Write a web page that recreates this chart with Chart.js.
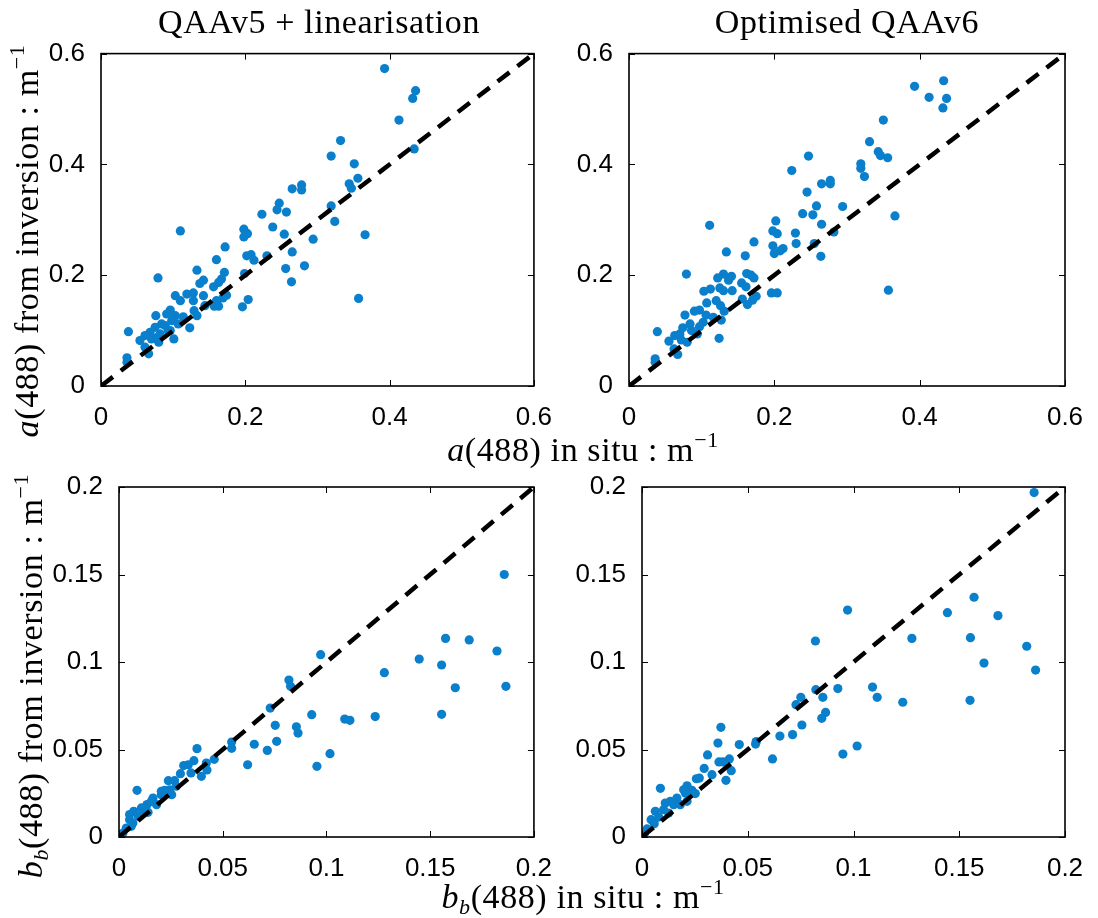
<!DOCTYPE html>
<html>
<head>
<meta charset="utf-8">
<script src="https://cdn.jsdelivr.net/npm/chart.js@4/dist/chart.umd.min.js"></script>
<style>
  body { margin: 0; background: #fff; width: 1098px; height: 918px; position: relative; overflow: hidden; }
  canvas { position: absolute; }
  .lbl { position: absolute; font-family: "Liberation Serif", serif; font-size: 34px; letter-spacing: 0.6px; color: #000; white-space: nowrap; transform: translate(-50%, -50%); }
  .rot { transform: translate(-50%, -50%) rotate(-90deg); }
  .lbl i { font-style: italic; }
  .lbl sup { font-size: 22px; vertical-align: 14px; line-height: 0; }
  .lbl sub { font-size: 22px; vertical-align: -6px; line-height: 0; font-style: italic; }
</style>
</head>
<body>
<canvas id="c1" width="560" height="400" style="left:0;top:30px"></canvas>
<canvas id="c2" width="558" height="400" style="left:540px;top:30px"></canvas>
<canvas id="c3" width="560" height="420" style="left:0;top:460px"></canvas>
<canvas id="c4" width="558" height="420" style="left:540px;top:460px"></canvas>

<div class="lbl" style="left:319px;top:22px">QAAv5 + linearisation</div>
<div class="lbl" style="left:847px;top:22px">Optimised QAAv6</div>
<div class="lbl" style="left:583px;top:450px"><i>a</i>(488) in situ : m<sup>&minus;1</sup></div>
<div class="lbl" style="left:583px;top:897px"><i>b</i><sub>b</sub>(488) in situ : m<sup>&minus;1</sup></div>
<div class="lbl rot" style="left:27px;top:241px"><i>a</i>(488) from inversion : m<sup>&minus;1</sup></div>
<div class="lbl rot" style="left:31px;top:676px"><i>b</i><sub>b</sub>(488) from inversion : m<sup>&minus;1</sup></div>

<script>
// tick values
const aTicks = [0, 0.2, 0.4, 0.6];
const bbTicks = [0, 0.05, 0.1, 0.15, 0.2];

// absorption, QAAv5 + linearisation
const aSituV5 = [0.393, 0.436, 0.432, 0.413, 0.434, 0.332, 0.319, 0.351, 0.356, 0.344, 0.347, 0.278, 0.278, 0.265,
  0.247, 0.244, 0.257, 0.223, 0.319, 0.324, 0.366, 0.238, 0.254, 0.294, 0.198, 0.203, 0.198, 0.110, 0.172, 0.265,
  0.230, 0.202, 0.208, 0.212, 0.160, 0.282, 0.256, 0.264, 0.133, 0.171, 0.199, 0.079, 0.142, 0.137, 0.167, 0.163,
  0.156, 0.357, 0.204, 0.196, 0.103, 0.128, 0.119, 0.142, 0.174, 0.169, 0.110, 0.128, 0.160, 0.144, 0.163, 0.157,
  0.129, 0.133, 0.096, 0.103, 0.091, 0.076, 0.114, 0.107, 0.123, 0.084, 0.075, 0.096, 0.038, 0.082, 0.068, 0.061,
  0.054, 0.070, 0.080, 0.101, 0.061, 0.066, 0.036, 0.036, 0.089, 0.078, 0.098, 0.093];
const aInvV5 = [0.573, 0.533, 0.519, 0.480, 0.428, 0.443, 0.415, 0.401, 0.375, 0.365, 0.357, 0.363, 0.354, 0.356,
  0.330, 0.318, 0.314, 0.310, 0.325, 0.297, 0.273, 0.287, 0.274, 0.265, 0.283, 0.275, 0.269, 0.280, 0.251, 0.242,
  0.235, 0.235, 0.237, 0.227, 0.228, 0.217, 0.212, 0.188, 0.209, 0.205, 0.203, 0.195, 0.191, 0.185, 0.193, 0.187,
  0.179, 0.158, 0.156, 0.143, 0.163, 0.168, 0.166, 0.163, 0.164, 0.159, 0.154, 0.154, 0.154, 0.145, 0.144, 0.144,
  0.136, 0.127, 0.137, 0.127, 0.130, 0.127, 0.125, 0.112, 0.105, 0.112, 0.106, 0.100, 0.098, 0.094, 0.097, 0.091,
  0.082, 0.085, 0.079, 0.085, 0.070, 0.058, 0.051, 0.043, 0.109, 0.088, 0.118, 0.100];

// absorption, optimised QAAv6
const aSituV6 = [0.433, 0.393, 0.413, 0.437, 0.432, 0.350, 0.331, 0.343, 0.346, 0.356, 0.247, 0.224, 0.319, 0.319,
  0.324, 0.265, 0.277, 0.277, 0.245, 0.258, 0.294, 0.239, 0.253, 0.366, 0.202, 0.265, 0.111, 0.198, 0.204, 0.229,
  0.282, 0.172, 0.230, 0.255, 0.198, 0.212, 0.208, 0.200, 0.134, 0.160, 0.264, 0.079, 0.130, 0.122, 0.141, 0.137,
  0.162, 0.168, 0.172, 0.155, 0.161, 0.112, 0.103, 0.125, 0.130, 0.142, 0.196, 0.204, 0.357, 0.175, 0.170, 0.163,
  0.156, 0.107, 0.120, 0.126, 0.131, 0.097, 0.090, 0.106, 0.077, 0.116, 0.127, 0.084, 0.097, 0.074, 0.039, 0.124,
  0.063, 0.055, 0.070, 0.080, 0.094, 0.072, 0.062, 0.067, 0.036, 0.036, 0.086, 0.102];
const aInvV6 = [0.551, 0.541, 0.521, 0.519, 0.502, 0.480, 0.441, 0.423, 0.416, 0.412, 0.415, 0.389, 0.401, 0.393,
  0.378, 0.365, 0.371, 0.365, 0.350, 0.325, 0.324, 0.311, 0.309, 0.307, 0.298, 0.292, 0.290, 0.280, 0.275, 0.276,
  0.278, 0.260, 0.257, 0.257, 0.253, 0.248, 0.244, 0.239, 0.242, 0.235, 0.234, 0.202, 0.202, 0.195, 0.198, 0.191,
  0.203, 0.200, 0.195, 0.186, 0.179, 0.175, 0.171, 0.177, 0.172, 0.172, 0.168, 0.168, 0.173, 0.162, 0.155, 0.147,
  0.157, 0.150, 0.154, 0.145, 0.135, 0.137, 0.135, 0.128, 0.128, 0.124, 0.119, 0.112, 0.107, 0.105, 0.098, 0.086,
  0.091, 0.081, 0.094, 0.079, 0.094, 0.083, 0.067, 0.057, 0.049, 0.043, 0.100, 0.115];

// backscattering, QAAv5 + linearisation
const bbSituV5 = [0.1857, 0.1574, 0.1688, 0.1822, 0.1447, 0.1555, 0.0972, 0.1279, 0.1621, 0.1865, 0.0819, 0.0827,
  0.0729, 0.0929, 0.1088, 0.1113, 0.1235, 0.1555, 0.0753, 0.0855, 0.0863, 0.0760, 0.0652, 0.0715, 0.1017, 0.0954,
  0.0620, 0.0543, 0.0543, 0.0459, 0.0376, 0.0361, 0.0312, 0.0334, 0.0421, 0.0424, 0.0397, 0.0296, 0.0347, 0.0238,
  0.0268, 0.0087, 0.0220, 0.0254, 0.0204, 0.0164, 0.0181, 0.0135, 0.0116, 0.0071, 0.0140, 0.0093, 0.0051, 0.0067,
  0.0035, 0.0019, 0.0204, 0.0244, 0.0156, 0.0276, 0.0108, 0.0051, 0.0059];
const bbInvV5 = [0.1500, 0.1135, 0.1126, 0.1063, 0.1017, 0.0983, 0.1042, 0.0939, 0.0853, 0.0861, 0.0897, 0.0861,
  0.0737, 0.0699, 0.0674, 0.0667, 0.0688, 0.0701, 0.0638, 0.0630, 0.0594, 0.0547, 0.0530, 0.0495, 0.0476, 0.0404,
  0.0413, 0.0543, 0.0507, 0.0444, 0.0505, 0.0436, 0.0408, 0.0413, 0.0423, 0.0383, 0.0347, 0.0362, 0.0366, 0.0322,
  0.0322, 0.0267, 0.0267, 0.0242, 0.0242, 0.0223, 0.0185, 0.0185, 0.0156, 0.0147, 0.0141, 0.0118, 0.0099, 0.0080,
  0.0051, 0.0023, 0.0261, 0.0270, 0.0204, 0.0290, 0.0166, 0.0128, 0.0061];

// backscattering, optimised QAAv6
const bbSituV6 = [0.1854, 0.1570, 0.1444, 0.1683, 0.0972, 0.0820, 0.1276, 0.1553, 0.1819, 0.1617, 0.1861, 0.0822,
  0.0926, 0.1090, 0.1112, 0.0751, 0.0855, 0.0728, 0.1233, 0.1551, 0.0868, 0.0850, 0.0756, 0.0712, 0.0652, 0.0540,
  0.0537, 0.0460, 0.0373, 0.0359, 0.0310, 0.0617, 0.0950, 0.1017, 0.0364, 0.0383, 0.0413, 0.0422, 0.0397, 0.0294,
  0.0331, 0.0257, 0.0271, 0.0087, 0.0213, 0.0236, 0.0252, 0.0205, 0.0165, 0.0134, 0.0181, 0.0213, 0.0102, 0.0063,
  0.0126, 0.0079, 0.0043, 0.0058, 0.0024, 0.0011, 0.0150, 0.0197, 0.0110];
const bbInvV6 = [0.1968, 0.1370, 0.1282, 0.1265, 0.1297, 0.1120, 0.1135, 0.1139, 0.1090, 0.0994, 0.0954, 0.0842,
  0.0848, 0.0857, 0.0798, 0.0798, 0.0798, 0.0756, 0.0770, 0.0781, 0.0712, 0.0678, 0.0640, 0.0585, 0.0577, 0.0545,
  0.0531, 0.0528, 0.0627, 0.0537, 0.0469, 0.0446, 0.0474, 0.0520, 0.0429, 0.0429, 0.0446, 0.0379, 0.0324, 0.0392,
  0.0356, 0.0333, 0.0337, 0.0278, 0.0293, 0.0267, 0.0248, 0.0251, 0.0223, 0.0204, 0.0185, 0.0204, 0.0156, 0.0147,
  0.0137, 0.0114, 0.0099, 0.0076, 0.0046, 0.0019, 0.0185, 0.0270, 0.0194];

const dotColor = '#0a7fcc';
const tickFont = { family: '"Liberation Sans", Arial, sans-serif', size: 26 };

// frame + inward ticks on all four sides, like the original figure
const boxPlugin = {
  id: 'box',
  afterDraw(chart) {
    const { ctx, chartArea: a, scales: { x, y } } = chart;
    const len = 6;
    ctx.save();
    ctx.strokeStyle = '#000';
    ctx.lineWidth = 1;
    ctx.beginPath();
    x.ticks.forEach(t => {
      const px = Math.round(x.getPixelForValue(t.value)) + 0.5;
      ctx.moveTo(px, a.bottom); ctx.lineTo(px, a.bottom - len);
      ctx.moveTo(px, a.top); ctx.lineTo(px, a.top + len);
    });
    y.ticks.forEach(t => {
      const py = Math.round(y.getPixelForValue(t.value)) + 0.5;
      ctx.moveTo(a.left, py); ctx.lineTo(a.left + len, py);
      ctx.moveTo(a.right, py); ctx.lineTo(a.right - len, py);
    });
    ctx.stroke();
    ctx.lineWidth = 1.6;
    ctx.strokeRect(a.left, a.top, a.right - a.left, a.bottom - a.top);
    ctx.restore();
  }
};

function makePanel(id, xs, ys, ticks, yWidth, xHeight, pad) {
  const max = ticks[ticks.length - 1];
  const axis = (fit, padding) => ({
    type: 'linear',
    min: 0,
    max: max,
    grid: { display: false },
    border: { display: false },
    ticks: {
      font: tickFont,
      color: '#000',
      padding: padding,
      autoSkip: false,
      maxRotation: 0,
      callback: v => String(v)
    },
    afterBuildTicks: s => { s.ticks = ticks.map(v => ({ value: v })); },
    afterFit: fit
  });
  return new Chart(document.getElementById(id), {
    type: 'scatter',
    data: {
      datasets: [{
        type: 'line',
        data: [{ x: ticks[0], y: ticks[0] }, { x: max, y: max }],
        borderColor: '#000',
        borderWidth: 4.5,
        borderDash: [15, 10],
        pointRadius: 0,
        fill: false,
        order: 0
      }, {
        data: xs.map((v, i) => ({ x: v, y: ys[i] })),
        backgroundColor: dotColor,
        borderWidth: 0,
        pointRadius: 4.6,
        order: 1
      }]
    },
    options: {
      responsive: false,
      animation: false,
      events: [],
      layout: { padding: pad },
      plugins: { legend: { display: false }, tooltip: { enabled: false } },
      scales: {
        x: axis(s => { s.height = xHeight; }, 8),
        y: axis(s => { s.width = yWidth; }, 8)
      }
    },
    plugins: [boxPlugin]
  });
}

makePanel('c1', aSituV5, aInvV5, aTicks, 101, 44, { top: 22, right: 25, left: 0, bottom: 0 });
makePanel('c2', aSituV6, aInvV6, aTicks, 89, 44, { top: 22, right: 33, left: 0, bottom: 0 });
makePanel('c3', bbSituV5, bbInvV5, bbTicks, 119, 43, { top: 27, right: 26, left: 0, bottom: 0 });
makePanel('c4', bbSituV6, bbInvV6, bbTicks, 102, 43, { top: 27, right: 33, left: 0, bottom: 0 });
</script>
</body>
</html>
